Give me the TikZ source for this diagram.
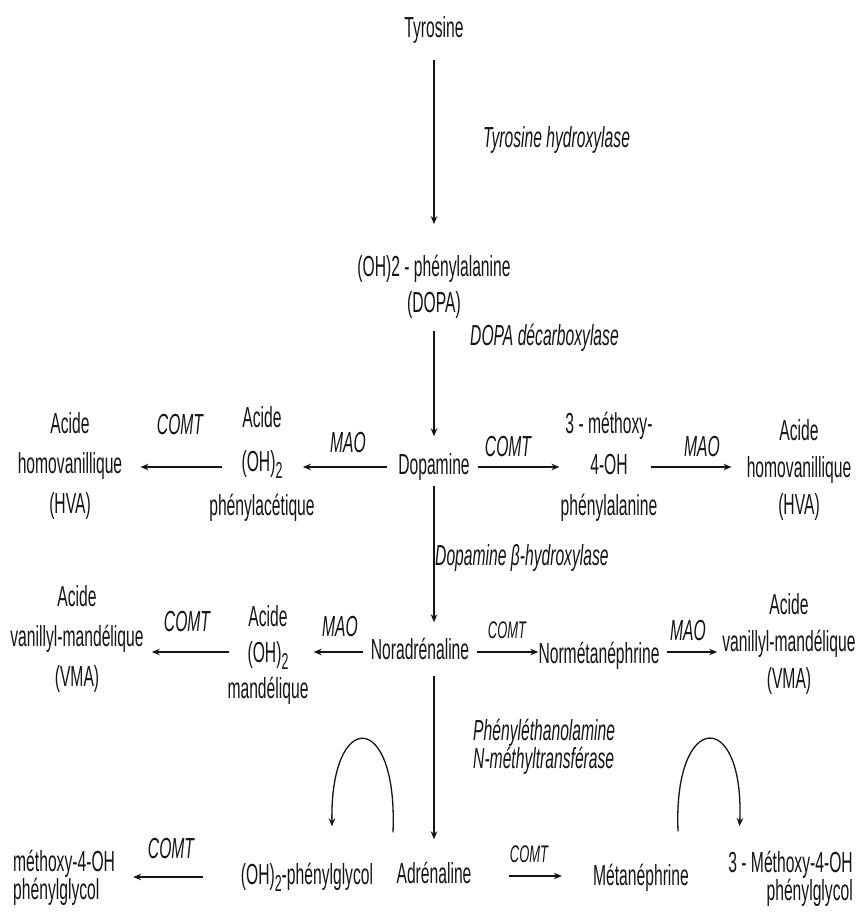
\documentclass[tikz,border=0pt]{standalone}
\usepackage{fontspec}
\setmainfont{Liberation Sans}[FakeStretch=0.54]
\usetikzlibrary{arrows.meta}
\definecolor{ink}{HTML}{151515}
\newcommand\lowtwo{\raisebox{-7pt}{\fontsize{23}{23}\selectfont 2}}
\begin{document}
\begin{tikzpicture}[x=1pt,y=-1pt,
  every node/.style={inner sep=0pt, text=ink},
  txt/.style={font=\fontsize{29}{40}\selectfont, align=center},
  one/.style={font=\fontsize{29}{32}\selectfont, text height=21pt, text depth=6pt},
  enz/.style={font=\fontsize{29}{26}\selectfont\itshape, anchor=base west},
  lab/.style={font=\fontsize{29}{32}\selectfont\itshape, anchor=base},
  slab/.style={font=\fontsize{24}{26}\selectfont\itshape, anchor=base},
  arr/.style={draw=ink, line width=1.3pt, -{Stealth[length=8pt,width=6.5pt]}},
]
\fill[white] (0,0) rectangle (859,919);
\useasboundingbox (0,0) rectangle (859,919);

% main column
\node[one] (tyr) at (434,30) {Tyrosine};
\node[txt, font=\fontsize{29}{36}\selectfont] (dopa) at (434,287) {(OH)2 - phénylalanine\\(DOPA)};
\node[one] (dop) at (434,467) {Dopamine};
\node[one] (nor) at (420,652) {Noradrénaline};
\node[one] (adr) at (434,876) {Adrénaline};

% row 1
\node[txt, font=\fontsize{29}{44}\selectfont] (dopac) at (262,464) {Acide\\(OH)\lowtwo\\phénylacétique};
\node[txt] (hva1) at (70,466) {Acide\\homovanillique\\(HVA)};
\node[txt, font=\fontsize{29}{41}\selectfont] (mth) at (609,467) {3 - méthoxy-\\4-OH\\phénylalanine};
\node[txt, font=\fontsize{29}{37}\selectfont] (hva2) at (799,470) {Acide\\homovanillique\\(HVA)};

% row 2
\node[txt, font=\fontsize{29}{36}\selectfont] (vmd) at (268,655) {Acide\\(OH)\lowtwo\\mandélique};
\node[txt] (vma1) at (77,639) {Acide\\vanillyl-mandélique\\(VMA)};
\node[one] (norm) at (599,656) {Normétanéphrine};
\node[txt, font=\fontsize{29}{37}\selectfont] (vma2) at (789,644) {Acide\\vanillyl-mandélique\\(VMA)};

% row 3
\node[one] (dpg) at (307,877) {(OH)\lowtwo-phénylglycol};
\node[txt, align=left, font=\fontsize{29}{28}\selectfont, anchor=west] (mhpg1) at (13,878) {méthoxy-4-OH\\phénylglycol};
\node[one] (met) at (641,878) {Métanéphrine};
\node[txt, align=right, font=\fontsize{29}{28}\selectfont, anchor=east] (mhpg2) at (853,879) {3 - Méthoxy-4-OH\\phénylglycol};

% enzymes
\node[enz] (e1) at (483,147) {Tyrosine hydroxylase};
\node[enz] (e2) at (470,345) {DOPA décarboxylase};
\node[enz] (e3) at (435,565) {Dopamine β-hydroxylase};
\node[enz, align=left, anchor=west] (e4) at (473,747) {Phényléthanolamine\\N-méthyltransférase};

% arrow labels
\node[lab] (l1) at (348,452) {MAO};
\node[lab] (l2) at (180,434) {COMT};
\node[lab] (l3) at (508,456) {COMT};
\node[lab] (l4) at (702,456) {MAO};
\node[lab] (l5) at (340,636) {MAO};
\node[lab] (l6) at (187,631) {COMT};
\node[slab] (l7) at (507,638) {COMT};
\node[lab] (l8) at (688,640) {MAO};
\node[lab] (l9) at (171,858) {COMT};
\node[slab] (l10) at (529,862) {COMT};

% vertical arrows
\draw[arr, shorten <=16pt, shorten >=31pt] (tyr.south) -- (dopa.north);
\draw[arr, shorten <=12pt, shorten >=17pt] (dopa.south) -- (dop.north);
\draw[arr, shorten <=5pt, shorten >=16pt] (dop.south) -- (dop.south |- nor.north);
\draw[arr, shorten <=10pt, shorten >=23pt] (dop.south |- nor.south) -- (adr.north);

% row 1 arrows
\draw[arr, shorten <=11pt, shorten >=-12pt] (dop.west) -- (dop.west -| dopac.east);
\draw[arr, shorten <=-13pt, shorten >=18pt] (dop.west -| dopac.west) -- (dop.west -| hva1.east);
\draw[arr, shorten <=8pt, shorten >=1pt] (dop.east) -- (dop.east -| mth.west);
\draw[arr, shorten <=-7pt, shorten >=15pt] (dop.east -| mth.east) -- (dop.east -| hva2.west);

% row 2 arrows
\draw[arr, shorten <=8pt, shorten >=5pt] (nor.west) -- (nor.west -| vmd.east);
\draw[arr, shorten <=-2pt, shorten >=8pt] (nor.west -| vmd.west) -- (nor.west -| vma1.east);
\draw[arr, shorten <=8pt, shorten >=0pt] (nor.east) -- (nor.east -| norm.west);
\draw[arr, shorten <=7pt, shorten >=5pt] (nor.east -| norm.east) -- (nor.east -| vma2.west);

% row 3 arrows
\draw[arr, shorten <=38pt, shorten >=18pt] (dpg.west) -- (dpg.west -| mhpg1.east);
\draw[arr, shorten <=37pt, shorten >=31pt] (adr.east) -- (adr.east -| met.west);
\draw[arr] ([shift={(-41,-30)}]adr.north) .. controls +(5,-123) and +(-2,-118) .. ([shift={(25,-37)}]dpg.north);
\draw[arr] ([shift={(37,-33)}]met.north) .. controls +(-5,-122) and +(5,-118) .. ([shift={(-51,-25)}]mhpg2.north);
\end{tikzpicture}
\end{document}
